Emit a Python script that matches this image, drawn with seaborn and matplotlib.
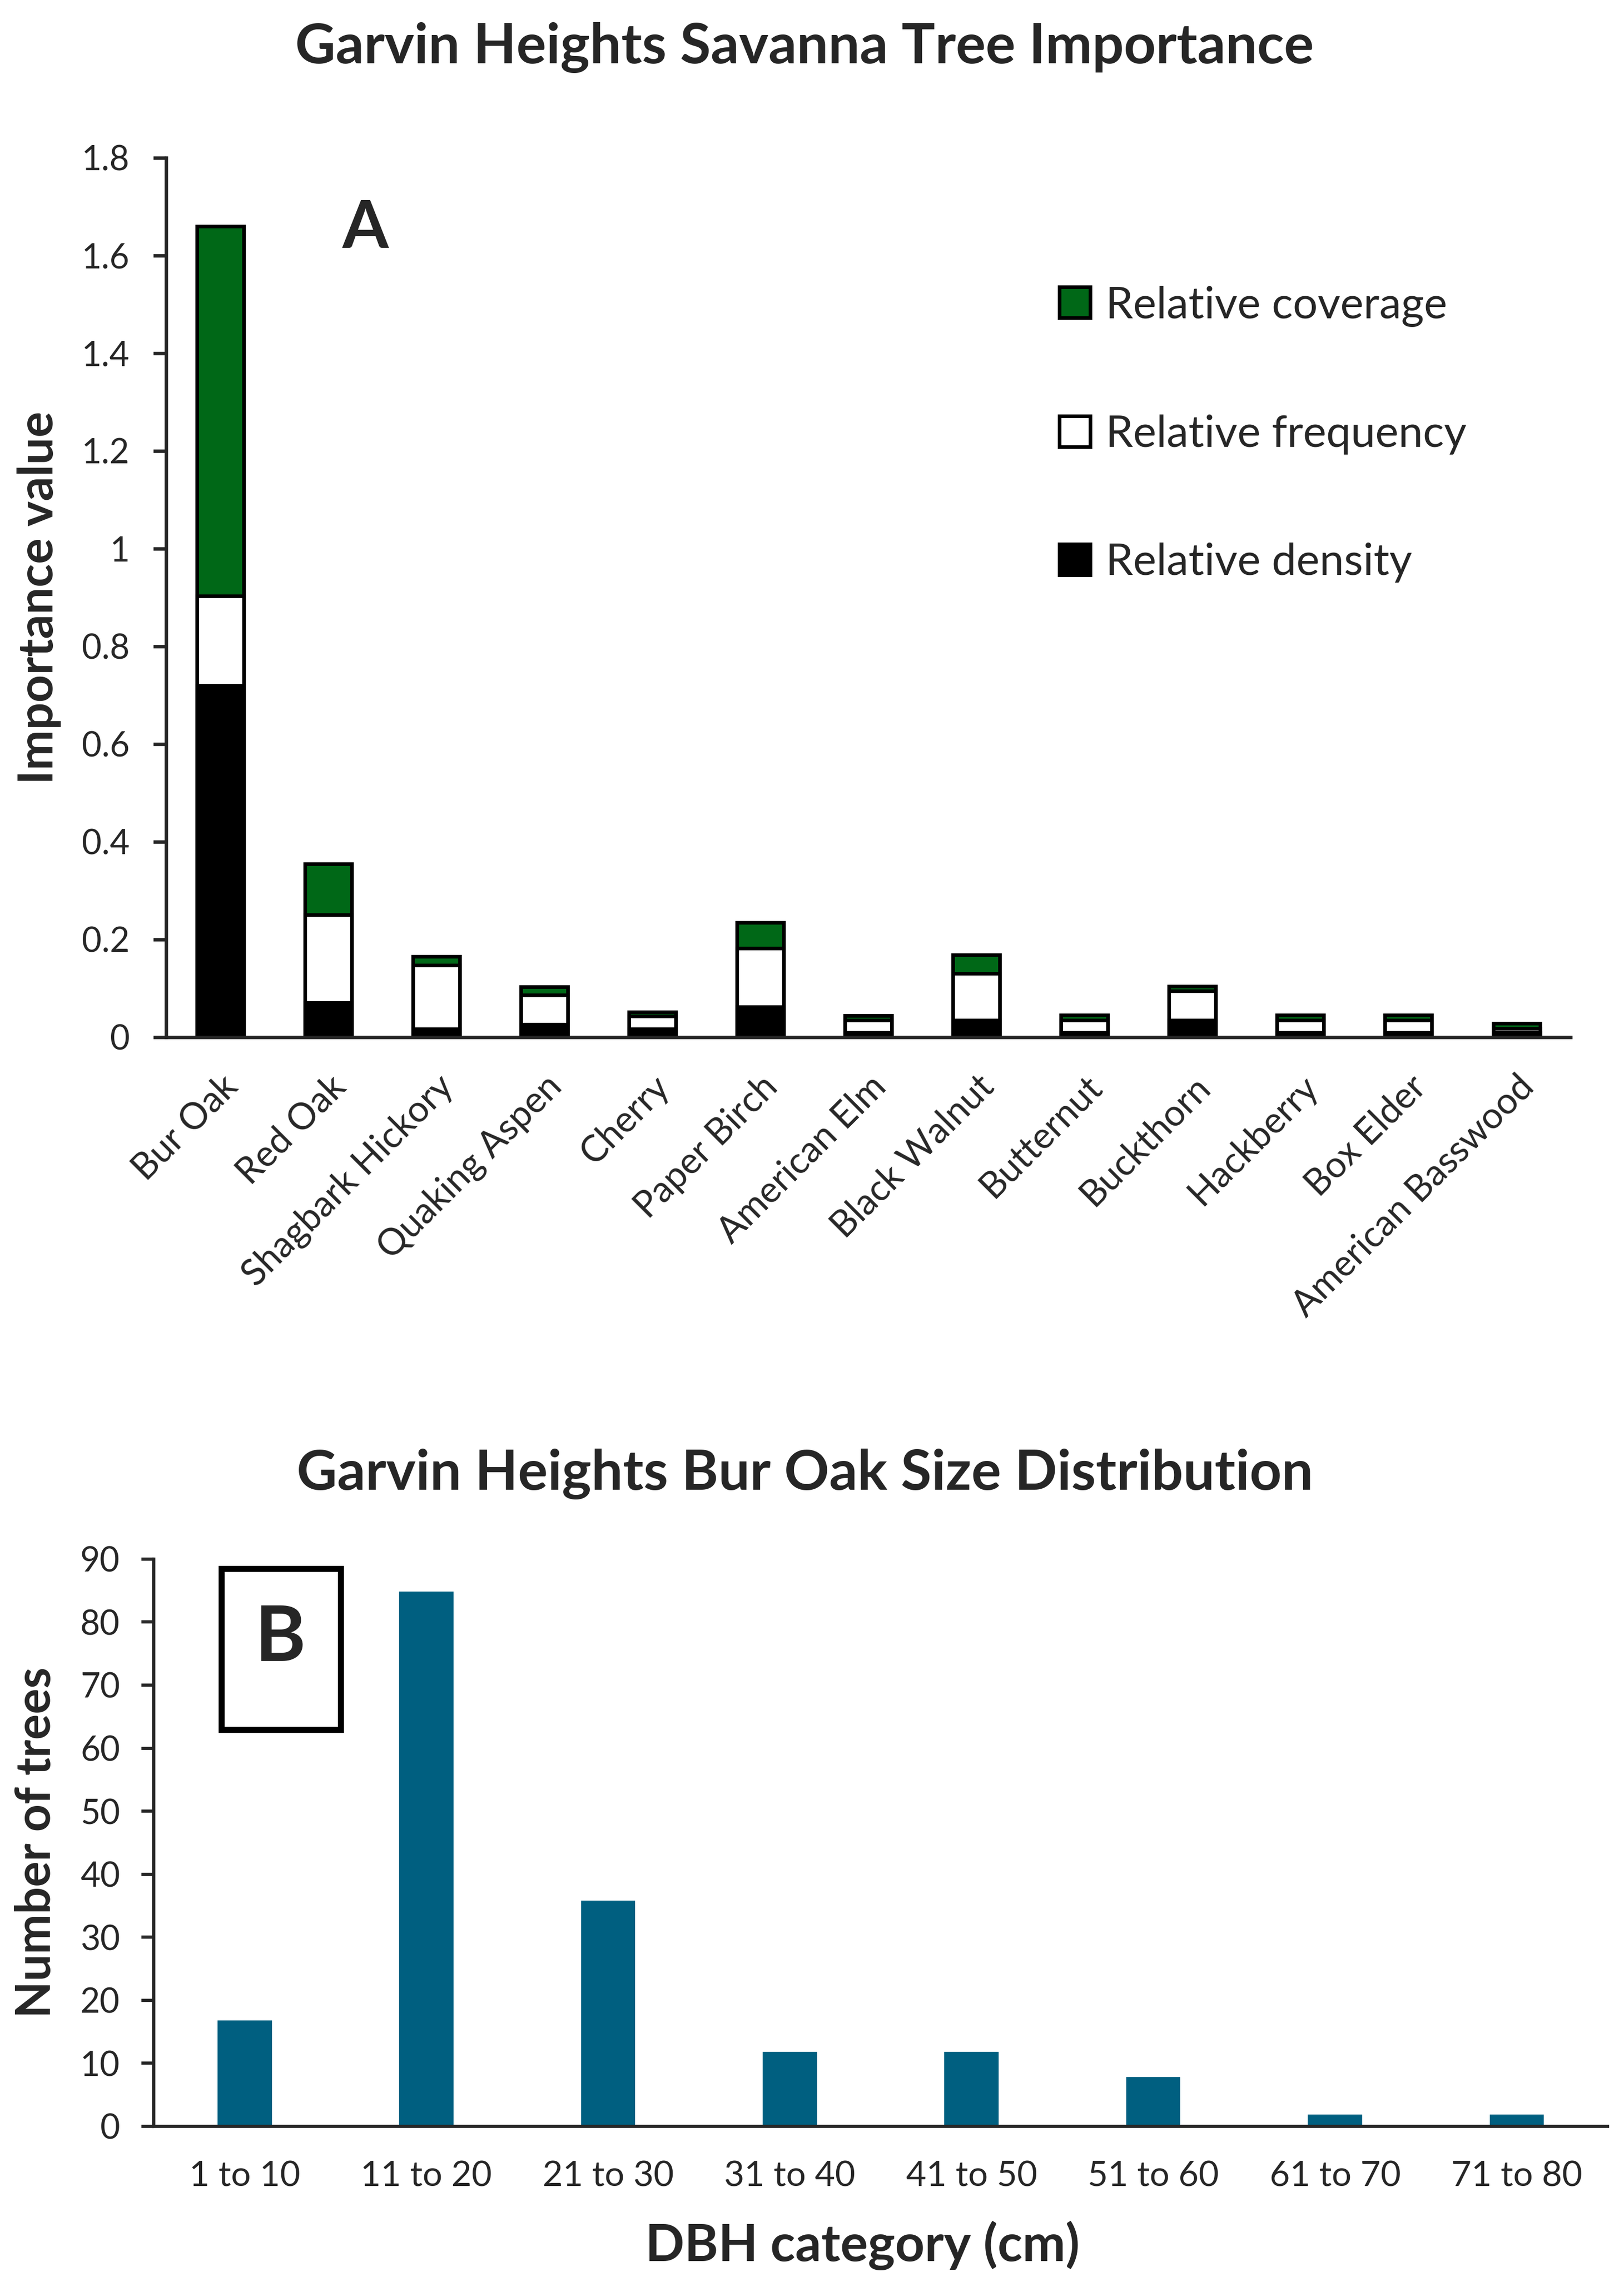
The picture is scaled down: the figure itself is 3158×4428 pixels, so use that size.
import matplotlib
matplotlib.use("Agg")
import matplotlib.pyplot as plt
import seaborn as sns
import pandas as pd
from matplotlib.patches import Patch, Rectangle
from matplotlib.ticker import FuncFormatter, MultipleLocator

# Panel A: importance value components per species
species = ["Bur Oak", "Red Oak", "Shagbark Hickory", "Quaking Aspen", "Cherry",
           "Paper Birch", "American Elm", "Black Walnut", "Butternut", "Buckthorn",
           "Hackberry", "Box Elder", "American Basswood"]
rel_density = [0.720, 0.070, 0.017, 0.026, 0.017, 0.062, 0.009, 0.035, 0.009, 0.035, 0.009, 0.009, 0.009]
rel_frequency = [0.183, 0.180, 0.130, 0.060, 0.026, 0.120, 0.026, 0.095, 0.026, 0.060, 0.026, 0.026, 0.009]
rel_coverage = [0.757, 0.105, 0.018, 0.017, 0.009, 0.053, 0.009, 0.038, 0.010, 0.009, 0.010, 0.010, 0.010]

# Panel B: bur oak size classes
dbh_classes = ["1 to 10", "11 to 20", "21 to 30", "31 to 40",
               "41 to 50", "51 to 60", "61 to 70", "71 to 80"]
n_trees = [17, 85, 36, 12, 12, 8, 2, 2]

GREEN = "#006817"
TEAL = "#005F80"

sns.set_style("ticks")
plt.rcParams['font.family'] = ['Lato', 'DejaVu Sans']

df = pd.DataFrame({"Species": species, "density": rel_density,
                   "frequency": rel_frequency, "coverage": rel_coverage})
df["dens_freq"] = df["density"] + df["frequency"]
df["total"] = df["dens_freq"] + df["coverage"]

dfb = pd.DataFrame({"DBH": dbh_classes, "Trees": n_trees})

fig = plt.figure(figsize=(3158 / 300, 4428 / 300), dpi=300)
axA = fig.add_axes([0.1023, 0.5445, 0.8648, 0.3862])
axB = fig.add_axes([0.0947, 0.0662, 0.8952, 0.2491])

# stacked bars drawn as overlapping cumulative bars
for col, colour in [("total", GREEN), ("dens_freq", "white"), ("density", "black")]:
    sns.barplot(data=df, x="Species", y=col, color=colour, edgecolor="black",
                linewidth=1.7, width=0.433, saturation=1, errorbar=None, ax=axA)

axA.set_ylim(0, 1.8)
axA.yaxis.set_major_locator(MultipleLocator(0.2))
axA.yaxis.set_major_formatter(FuncFormatter(lambda v, p: "{:g}".format(round(v, 1))))
axA.set_xlim(-0.5, len(species) - 0.5)
sns.despine(ax=axA)
for s in ["left", "bottom"]:
    axA.spines[s].set_linewidth(1.6)
axA.tick_params(axis="y", labelsize=16, length=6, width=1.6, pad=11)
axA.tick_params(axis="x", labelsize=17, length=0, pad=15)
for lab in axA.get_xticklabels():
    lab.set_rotation(45)
    lab.set_ha("right")
    lab.set_va("top")
    lab.set_rotation_mode("anchor")
axA.set_xlabel("")
axA.set_ylabel("Importance value", fontsize=22.5, fontweight="bold")
axA.yaxis.label.set_va("center")
axA.yaxis.set_label_coords(-0.0904, 0.5)

axA.text(0.142, 0.919, "A", transform=axA.transAxes, fontsize=31,
         fontweight="bold", ha="center", va="center")

handles = [Patch(facecolor=GREEN, edgecolor="black", linewidth=1.7),
           Patch(facecolor="white", edgecolor="black", linewidth=1.7),
           Patch(facecolor="black", edgecolor="black", linewidth=1.7)]
axA.legend(handles, ["Relative coverage", "Relative frequency", "Relative density"],
           loc="center left", bbox_to_anchor=(0.636, 0.686), frameon=False,
           fontsize=20.5, labelspacing=2.0, handlelength=0.7, handleheight=0.7,
           handletextpad=0.35, borderpad=0, borderaxespad=0)

# Panel B
sns.barplot(data=dfb, x="DBH", y="Trees", color=TEAL, saturation=1,
            width=0.31, errorbar=None, ax=axB)
axB.set_ylim(0, 90)
axB.yaxis.set_major_locator(MultipleLocator(10))
axB.set_xlim(-0.5, len(dbh_classes) - 0.5)
sns.despine(ax=axB)
for s in ["left", "bottom"]:
    axB.spines[s].set_linewidth(1.5)
axB.tick_params(axis="y", labelsize=16, length=5.8, width=1.5, pad=10)
axB.tick_params(axis="x", labelsize=16.3, length=0, pad=16)
axB.set_xlabel("DBH category (cm)", fontsize=24, fontweight="bold")
axB.xaxis.set_label_coords(0.4875, -0.21)
axB.xaxis.label.set_va("center")
axB.set_ylabel("Number of trees", fontsize=22.4, fontweight="bold")
axB.yaxis.label.set_va("center")
axB.yaxis.set_label_coords(-0.0807, 0.5)

axB.add_patch(Rectangle((0.0467, 0.699), 0.082, 0.284, transform=axB.transAxes,
                        fill=False, edgecolor="black", linewidth=2.8, clip_on=False))
axB.text(0.087, 0.859, "B", transform=axB.transAxes, fontsize=36,
         fontweight="bold", ha="center", va="center")

fig.text(0.4955, 0.979, "Garvin Heights Savanna Tree Importance", fontsize=26,
         fontweight="bold", ha="center", va="center")
fig.text(0.4955, 0.3527, "Garvin Heights Bur Oak Size Distribution", fontsize=26,
         fontweight="bold", ha="center", va="center")

fig.savefig("out.png", dpi=300)
